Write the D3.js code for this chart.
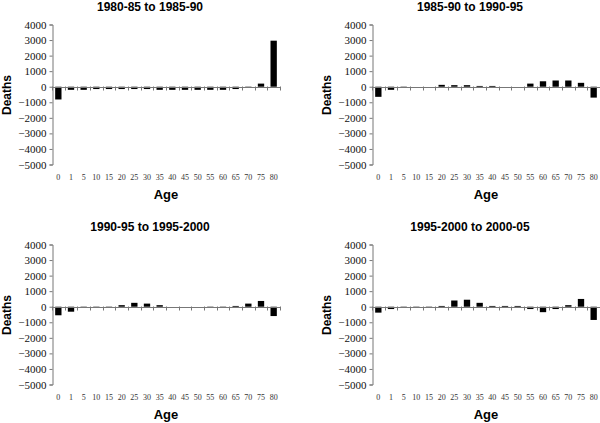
<!DOCTYPE html>
<html>
<head>
<meta charset="utf-8">
<script src="https://cdn.jsdelivr.net/npm/d3@7"></script>
<style>
  body { margin: 0; background: #fff; }
  svg { display: block; }
  .title, .axis-title { font-family: "Liberation Sans", Arial, sans-serif; font-weight: bold; fill: #000; }
</style>
</head>
<body>
<script>
var ages = ['0', '1', '5', '10', '15', '20', '25', '30', '35', '40',
  '45', '50', '55', '60', '65', '70', '75', '80'];

var yTicks = [4000, 3000, 2000, 1000, 0, -1000, -2000, -3000, -4000, -5000];

var titles = ['1980-85 to 1985-90', '1985-90 to 1990-95',
  '1990-95 to 1995-2000', '1995-2000 to 2000-05'];

var deaths8085 = [-820, -200, -200, -150, -150, -150, -150, -150, -200, -200,
  -200, -200, -200, -200, -150, -80, 200, 2960];
var deaths8590 = [-650, -200, -80, 0, 0, 120, 100, 100, 50, 50,
  0, 0, 200, 350, 400, 400, 250, -700];
var deaths9095 = [-550, -320, -50, -50, -50, 100, 250, 200, 100, 0,
  0, 0, -50, -50, 50, 200, 370, -600];
var deaths9500 = [-380, -150, -50, -50, -50, 50, 400, 450, 250, 50,
  50, 50, -150, -350, -150, 100, 500, -850];

var series = [deaths8085, deaths8590, deaths9095, deaths9500];

var serif = '"Liberation Serif", "Times New Roman", "DejaVu Serif", serif';
var width = 600, height = 423;

var svg = d3.select('body').append('svg')
    .attr('width', width)
    .attr('height', height);

series.forEach(function(values, i) {
  var dx = (i % 2) * 320;
  var dy = Math.floor(i / 2) * 220;
  var g = svg.append('g').attr('transform', 'translate(' + dx + ',' + dy + ')');

  var x = d3.scaleBand()
      .domain(ages)
      .range([52, 280])
      .paddingInner(0.5)
      .paddingOuter(0.25);

  var y = d3.scaleLinear()
      .domain([-5000, 4000])
      .range([164.5, 24.5]);

  // y axis
  var yAxis = g.append('g')
      .attr('transform', 'translate(52.5,0)')
      .call(d3.axisLeft(y).tickValues(yTicks).tickSize(3).tickPadding(3)
        .tickFormat(d3.format('d')));
  yAxis.selectAll('path, line').attr('stroke', '#777');
  yAxis.attr('font-family', null);
  yAxis.selectAll('text')
      .style('font-family', serif)
      .style('font-size', '11px')
      .style('fill', '#111');

  // bars
  g.selectAll('rect')
      .data(values)
      .enter()
      .append('rect')
      .attr('x', function(d, j) { return x(ages[j]); })
      .attr('width', x.bandwidth())
      .attr('y', function(d) { return y(Math.max(0, d)); })
      .attr('height', function(d) { return Math.abs(y(d) - y(0)); })
      .attr('fill', '#000');

  // zero line with category ticks
  var y0 = Math.round(y(0)) + 0.5;
  g.append('line')
      .attr('x1', 52).attr('x2', 280)
      .attr('y1', y0).attr('y2', y0)
      .attr('stroke', '#777');
  var step = (280 - 52) / ages.length;
  g.selectAll('line.xtick')
      .data(d3.range(ages.length + 1))
      .enter()
      .append('line')
      .attr('class', 'xtick')
      .attr('x1', function(k) { return Math.round(52 + k * step) + 0.5; })
      .attr('x2', function(k) { return Math.round(52 + k * step) + 0.5; })
      .attr('y1', y0 - 1)
      .attr('y2', y0 + 3)
      .attr('stroke', '#777');

  // x tick labels
  g.selectAll('text.xlab')
      .data(ages)
      .enter()
      .append('text')
      .attr('class', 'xlab')
      .attr('x', function(d) { return x(d) + x.bandwidth() / 2; })
      .attr('y', 180)
      .attr('text-anchor', 'middle')
      .style('font-family', serif)
      .style('font-size', '8px')
      .style('fill', '#333')
      .text(function(d) { return d; });

  g.append('text')
      .attr('class', 'title')
      .attr('x', 150)
      .attr('y', 11)
      .attr('text-anchor', 'middle')
      .style('font-size', '12px')
      .text(titles[i]);

  g.append('text')
      .attr('class', 'axis-title')
      .attr('transform', 'translate(11,95) rotate(-90)')
      .attr('text-anchor', 'middle')
      .style('font-size', '12px')
      .text('Deaths');

  g.append('text')
      .attr('class', 'axis-title')
      .attr('x', 166)
      .attr('y', 199)
      .attr('text-anchor', 'middle')
      .style('font-size', '13px')
      .text('Age');
});
</script>
</body>
</html>
